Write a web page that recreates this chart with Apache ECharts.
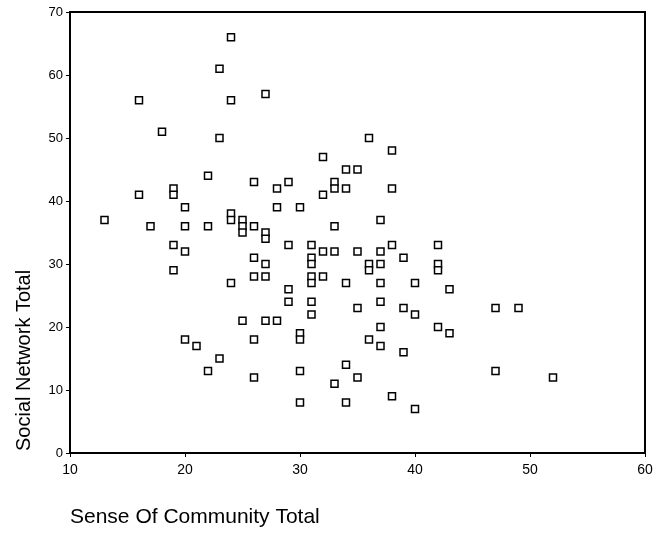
<!DOCTYPE html>
<html>
<head>
<meta charset="utf-8">
<script src="https://cdn.jsdelivr.net/npm/echarts@6/dist/echarts.min.js"></script>
<style>html,body{margin:0;padding:0;background:#fff;}#c{width:657px;height:538px;}</style>
</head>
<body>
<div id="c"></div>
<script>
// Sense Of Community Total (x) and Social Network Total (y)
const senseOfCommunity = [24,23,16,24,27,18,23,22,26,28,16,19,19,20,13,17,20,22,24,24,25,25,25,26,28,27,27,19,20,19,26,27,26,27,24,25,27,28,20,21,23,22,26,26,
  36,38,32,34,35,29,33,33,34,32,38,30,37,33,29,31,31,31,32,33,35,37,38,42,39,36,36,37,42,42,31,31,32,34,37,40,29,43,29,31,37,31,35,39,40,30,30,37,42,43,36,37,39,34,30,35,33,38,30,34,40,
  47,49,47,52];
const socialNetwork = [66,61,56,56,57,51,50,44,43,42,41,42,41,39,37,36,36,36,38,37,37,36,35,36,39,35,34,33,32,29,31,30,28,28,27,21,21,21,18,17,15,13,18,12,
  50,48,47,45,45,43,43,42,42,41,42,39,37,36,33,33,31,30,32,32,32,32,33,33,31,30,29,30,30,29,28,27,28,27,27,27,26,26,24,24,24,22,23,23,22,19,18,20,20,19,18,17,16,14,13,12,11,9,8,8,7,
  23,23,13,12];
const xTicks = [10,20,30,40,50,60];
const yTicks = [0,10,20,30,40,50,60,70];

const points = senseOfCommunity.map((x, i) => [x, socialNetwork[i]]);
const chart = echarts.init(document.getElementById('c'), null, {renderer: 'canvas'});
const axisLine = {show: true, lineStyle: {color: '#000', width: 2}};
chart.setOption({
  animation: false,
  backgroundColor: '#fff',
  grid: {left: 70, right: 12, top: 12, bottom: 85, show: true, borderColor: '#000', borderWidth: 2},
  xAxis: {
    type: 'value', min: xTicks[0], max: xTicks[xTicks.length-1], interval: 10,
    axisLine: axisLine,
    axisTick: {show: true, length: 4, inside: false, lineStyle: {color: '#000', width: 1}},
    splitLine: {show: false},
    axisLabel: {color: '#000', fontFamily: 'Liberation Sans, Arial', fontSize: 14, margin: 10}
  },
  yAxis: {
    type: 'value', min: yTicks[0], max: yTicks[yTicks.length-1], interval: 10,
    axisLine: axisLine,
    axisTick: {show: true, length: 4, lineStyle: {color: '#000', width: 1}},
    splitLine: {show: false},
    axisLabel: {color: '#000', fontFamily: 'Liberation Sans, Arial', fontSize: 13, margin: 7}
  },
  graphic: [
    {type: 'text', left: 70, top: 507, style: {text: 'Sense Of Community Total', font: '21px "Liberation Sans", Arial', fill: '#000'}},
    {type: 'text', x: 14, y: 451, rotation: Math.PI/2, style: {text: 'Social Network Total', font: '20px "Liberation Sans", Arial', fill: '#000'}}
  ],
  series: [{
    type: 'scatter',
    data: points,
    symbol: 'rect',
    symbolSize: 7,
    itemStyle: {color: '#fff', borderColor: '#000', borderWidth: 1.5, opacity: 1}
  }]
});
</script>
</body>
</html>
